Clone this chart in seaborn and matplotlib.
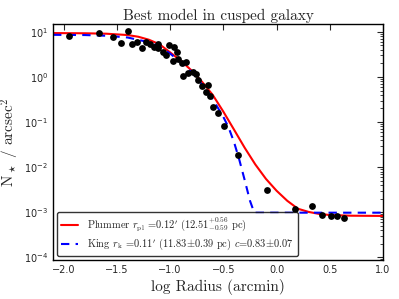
import matplotlib
matplotlib.use("Agg")
import matplotlib.pyplot as plt
import seaborn as sns
import pandas as pd
from matplotlib.font_manager import FontProperties

sns.set_style("white")

# observed star counts (log radius in arcmin, density per arcsec^2)
obs_logr = [-1.95, -1.67, -1.54, -1.46, -1.40, -1.36, -1.31, -1.26, -1.23, -1.19,
            -1.15, -1.11, -1.11, -1.07, -1.04, -1.01, -0.96, -0.94, -0.97, -0.93,
            -0.89, -0.85, -0.88, -0.83, -0.79, -0.76, -0.74, -0.70, -0.64, -0.66,
            -0.63, -0.60, -0.55, -0.49, -0.36, -0.09, 0.17, 0.33, 0.43, 0.51,
            0.57, 0.63]
obs_dens = [8.3, 9.2, 7.5, 5.8, 10.2, 5.5, 6.1, 4.5, 6.1, 5.5,
            4.7, 5.5, 4.5, 3.5, 3.1, 5.0, 4.7, 3.5, 2.3, 2.55,
            2.0, 2.2, 1.07, 1.25, 1.31, 1.18, 0.87, 0.64, 0.67, 0.47,
            0.38, 0.22, 0.16, 0.083, 0.019, 0.0031, 0.00118, 0.00138, 0.00087, 0.00083,
            0.00083, 0.00075]

# Plummer model curve
plum_logr = [-2.1, -1.8, -1.6, -1.4, -1.3, -1.2, -1.1, -1.0, -0.9, -0.8, -0.7,
             -0.6, -0.5, -0.4, -0.3, -0.2, -0.1, 0.0, 0.1, 0.2, 0.3, 0.4, 0.5,
             0.7, 1.0]
plum_dens = [9.4, 9.3, 9.1, 8.5, 7.8, 6.7, 5.3, 3.5, 2.3, 1.4, 0.78,
             0.40, 0.17, 0.068, 0.027, 0.0115, 0.0055, 0.0030, 0.0018, 0.0012,
             0.00102, 0.00092, 0.00087, 0.00084, 0.00083]

# King model curve
king_logr = [-2.1, -1.8, -1.6, -1.4, -1.2, -1.1, -1.0, -0.9, -0.8, -0.7, -0.6,
             -0.5, -0.45, -0.4, -0.35, -0.3, -0.25, -0.21, 0.0, 0.5, 1.0]
king_dens = [8.6, 8.5, 8.2, 7.5, 5.9, 4.7, 3.3, 2.1, 1.3, 0.68, 0.32,
             0.13, 0.075, 0.036, 0.0145, 0.0052, 0.0018, 0.00098, 0.00098,
             0.00098, 0.00098]

plummer_label = r"Plummer $r_{\rm pl}$ =0.12$'$ (12.51$^{+0.56}_{-0.59}$ pc)"
king_label = r"King $r_{\rm k}$ =0.11$'$ (11.83$\pm$0.39 pc) $c$=0.83$\pm$0.07"

obs = pd.DataFrame({"logr": obs_logr, "dens": obs_dens})
plum = pd.DataFrame({"logr": plum_logr, "dens": plum_dens})
king = pd.DataFrame({"logr": king_logr, "dens": king_dens})

fig = plt.figure(figsize=(3.99, 2.99), dpi=100)
ax = fig.add_axes([0.133, 0.13, 0.827, 0.79])

sns.lineplot(data=plum, x="logr", y="dens", ax=ax, color="red", lw=1.5,
             label=plummer_label, sort=False, estimator=None)
sns.lineplot(data=king, x="logr", y="dens", ax=ax, color="blue", lw=1.5,
             label=king_label, sort=False, estimator=None)
ax.lines[-1].set_dashes([4, 3])
sns.scatterplot(data=obs, x="logr", y="dens", ax=ax, color="black", s=24,
                edgecolor="black", linewidth=0, zorder=3)

ax.set_yscale("log")
ax.set_xlim(-2.1, 1.0)
ax.set_ylim(8.7e-5, 15)
ax.set_xticks([-2.0, -1.5, -1.0, -0.5, 0.0, 0.5, 1.0])

ax.tick_params(which="both", direction="in", top=True, right=True, labelsize=7)
ax.tick_params(which="major", length=4)
ax.tick_params(which="minor", length=2)
ax.tick_params(axis="x", which="minor", bottom=False, top=False)
for s in ax.spines.values():
    s.set_color("black")
    s.set_linewidth(1.0)

serif = dict(family="cmr10", math_fontfamily="cm")
ax.set_title("Best model in cusped galaxy", fontsize=11, pad=3, **serif)
ax.set_xlabel("log Radius (arcmin)", fontsize=11, labelpad=3, **serif)
ax.set_ylabel(r"N$_\star$ / arcsec$^2$", fontsize=11, labelpad=2, **serif)

leg_font = FontProperties(family="cmr10", size=7.5, math_fontfamily="cm")
leg = ax.legend(loc="lower left", prop=leg_font, frameon=True, fancybox=True,
                handlelength=1.6, handletextpad=0.9, borderaxespad=0.35,
                labelspacing=0.35, borderpad=0.4)
leg.get_frame().set_edgecolor("black")
leg.get_frame().set_linewidth(1.0)

fig.savefig("out.png", dpi=100)
